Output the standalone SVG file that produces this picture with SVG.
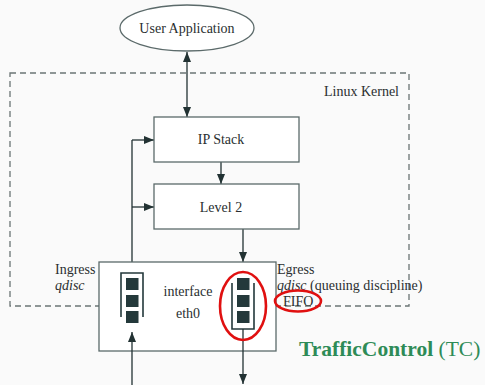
<svg xmlns="http://www.w3.org/2000/svg" width="485" height="385" viewBox="0 0 485 385">
  <defs>
    <marker id="tip" viewBox="0 0 10 10" refX="10" refY="5" markerWidth="10" markerHeight="10" markerUnits="userSpaceOnUse" orient="auto-start-reverse">
      <path d="M0,1 L10,5 L0,9 Z" fill="#223233"/>
    </marker>
    <style>
      text { font-family: "Liberation Serif", "DejaVu Serif", "Times New Roman", Tinos, "Noto Serif", FreeSerif, Times, serif; font-size: 14px; fill: #2a2f30; }
      .box { fill: #ffffff; stroke: #5b6a6a; stroke-width: 1.3; }
      .wire { fill: none; stroke: #223233; stroke-width: 1.3; }
      .arrow { fill: none; stroke: #223233; stroke-width: 1.3; marker-end: url(#tip); }
      .both { marker-start: url(#tip); }
      .kernel { fill: none; stroke: #6b7575; stroke-width: 1.3; stroke-dasharray: 6 4; }
      .slot { fill: #24393b; }
      .rack { fill: none; stroke: #24393b; stroke-width: 1.6; }
      .mark { fill: none; stroke: #e01010; stroke-width: 2.6; }
      .ital { font-style: italic; }
      .tc { font-size: 21.5px; fill: #2e8b57; }
    </style>
  </defs>
  <rect width="485" height="385" fill="#fafafa"/>

  <!-- kernel boundary -->
  <g id="kernel">
    <rect class="kernel" x="10" y="73" width="399" height="233"/>
    <text x="399" y="96" text-anchor="end">Linux Kernel</text>
  </g>

  <!-- connectors -->
  <g id="connectors">
    <line class="arrow both" x1="187" y1="52" x2="187" y2="117"/>
    <line class="arrow" x1="221" y1="162" x2="221" y2="184"/>
    <line class="arrow" x1="243" y1="229" x2="243" y2="262"/>
    <polyline class="wire" points="132,262 132,140"/>
    <line class="arrow" x1="132" y1="140" x2="154" y2="140"/>
    <line class="arrow" x1="132" y1="207" x2="154" y2="207"/>
  </g>

  <g id="user-app">
    <ellipse class="box" cx="187" cy="28" rx="67" ry="23"/>
    <text x="187" y="33" text-anchor="middle" font-size="14.5">User Application</text>
  </g>

  <g id="ip-stack">
    <rect class="box" x="154" y="117" width="145" height="45"/>
    <text x="221" y="144" text-anchor="middle">IP Stack</text>
  </g>

  <g id="level2">
    <rect class="box" x="154" y="184" width="145" height="45"/>
    <text x="221" y="212" text-anchor="middle">Level 2</text>
  </g>

  <g id="interface">
    <rect class="box" x="99" y="262" width="177" height="89"/>
    <text x="188" y="296" text-anchor="middle">interface</text>
    <text x="188" y="318" text-anchor="middle">eth0</text>
  </g>

  <!-- ingress queue -->
  <g id="ingress-queue">
    <polyline class="rack" points="121,317 121,273 143,273 143,317"/>
    <rect class="slot" x="126" y="278" width="12.5" height="12"/>
    <rect class="slot" x="126" y="295" width="12.5" height="12"/>
    <rect class="slot" x="126" y="311" width="12.5" height="12"/>
    <line class="arrow" x1="132" y1="385" x2="132" y2="332"/>
    <text x="55" y="274">Ingress</text>
    <text x="55" y="290" class="ital">qdisc</text>
  </g>

  <!-- egress queue -->
  <g id="egress-queue">
    <polyline class="rack" points="232,283 232,329 254,329 254,283"/>
    <rect class="slot" x="237" y="278" width="12.5" height="12"/>
    <rect class="slot" x="237" y="295" width="12.5" height="12"/>
    <rect class="slot" x="237" y="311" width="12.5" height="12"/>
    <line class="arrow" x1="243" y1="329" x2="243" y2="384"/>
    <ellipse class="mark" cx="243" cy="306" rx="23" ry="34"/>
    <text x="277" y="274">Egress</text>
    <text x="277" y="290"><tspan class="ital">qdisc</tspan> (queuing discipline)</text>
    <text x="283" y="306">FIFO</text>
    <ellipse class="mark" cx="298" cy="301" rx="23" ry="10.5"/>
  </g>

  <g id="title">
    <text x="299" y="356" class="tc"><tspan font-weight="bold">TrafficControl</tspan> (TC)</text>
  </g>
</svg>
